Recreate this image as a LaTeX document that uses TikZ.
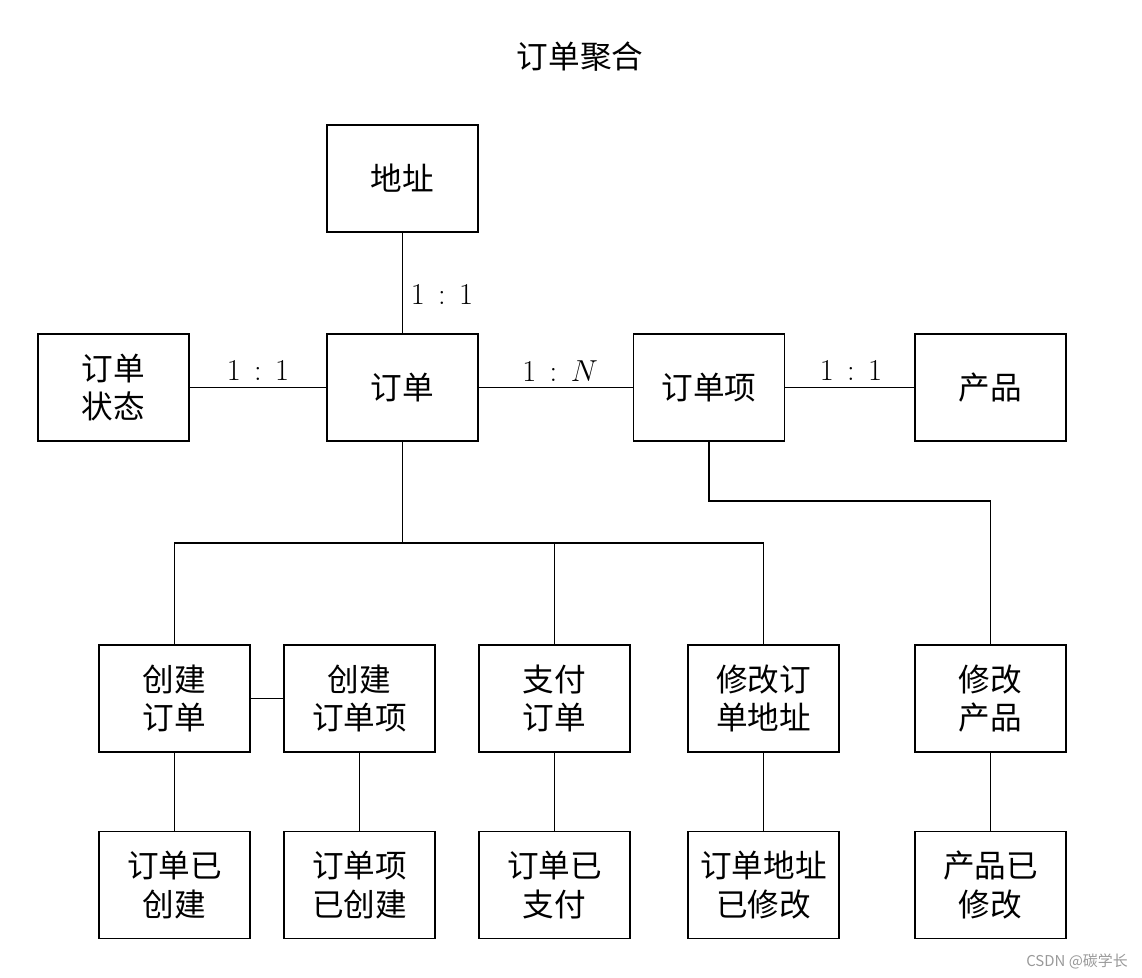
\documentclass[tikz,border=0pt]{standalone}
\usepackage{fontspec}
\newfontfamily\cjk{Noto Sans CJK SC}
\begin{document}
\begin{tikzpicture}[x=0.02cm,y=-0.02cm,
  box/.style={draw,line width=1.1pt,minimum width=3.02cm,minimum height=2.14cm,align=center,inner sep=0pt,
    font=\cjk\fontsize{18}{22}\selectfont},
  conn/.style={line width=1.1pt},
  lbl/.style={font=\fontsize{19}{23}\selectfont}]
\useasboundingbox (0,0) rectangle (1142,977);
\node[font=\cjk\fontsize{18}{22}\selectfont] (title) at (580,57) {订单聚合};
% top row
\node[box] (addr) at (402.5,178.5) {地址};
\node[box] (status) at (113.5,387.5) {订单\\状态};
\node[box] (order) at (402.5,387.5) {订单};
\node[box] (item) at (709,387.5) {订单项};
\node[box] (prod) at (990.5,387.5) {产品};
% row 3
\node[box] (c1) at (174.5,698.5) {创建\\订单};
\node[box] (c2) at (359.5,698.5) {创建\\订单项};
\node[box] (c3) at (554.5,698.5) {支付\\订单};
\node[box] (c4) at (763.5,698.5) {修改订\\单地址};
\node[box] (c5) at (990.5,698.5) {修改\\产品};
% row 4
\node[box] (e1) at (174.5,885) {订单已\\创建};
\node[box] (e2) at (359.5,885) {订单项\\已创建};
\node[box] (e3) at (554.5,885) {订单已\\支付};
\node[box] (e4) at (763.5,885) {订单地址\\已修改};
\node[box] (e5) at (990.5,885) {产品已\\修改};
% connectors
\draw[conn] (addr) -- (order);
\node[lbl] (l1) at (442,295) {$1\,:\,1$};
\draw[conn] (status) -- (order);
\node[lbl] (l2) at (258,371) {$1\,:\,1$};
\draw[conn] (order) -- (item);
\node[lbl] (l3) at (560,371) {$1\,:\,N$};
\draw[conn] (item) -- (prod);
\node[lbl] (l4) at (851,371) {$1\,:\,1$};
\coordinate (bus) at (402.5,543);
\draw[conn] (order.south) -- (bus);
\draw[conn] (c1.north) |- (bus) -| (c4.north);
\draw[conn] (c3.north) -- (c3.north |- bus);
\draw[conn] (c1) -- (c2);
\coordinate (ib) at (709,501);
\draw[conn] (item.south) -- (ib) -| (c5.north);
\draw[conn] (c1) -- (e1);
\draw[conn] (c2) -- (e2);
\draw[conn] (c3) -- (e3);
\draw[conn] (c4) -- (e4);
\draw[conn] (c5) -- (e5);
\node[font=\cjk\fontsize{8.5}{10}\selectfont,text=gray!80] (wm) at (1077,961) {CSDN @碳学长};
\end{tikzpicture}
\end{document}
